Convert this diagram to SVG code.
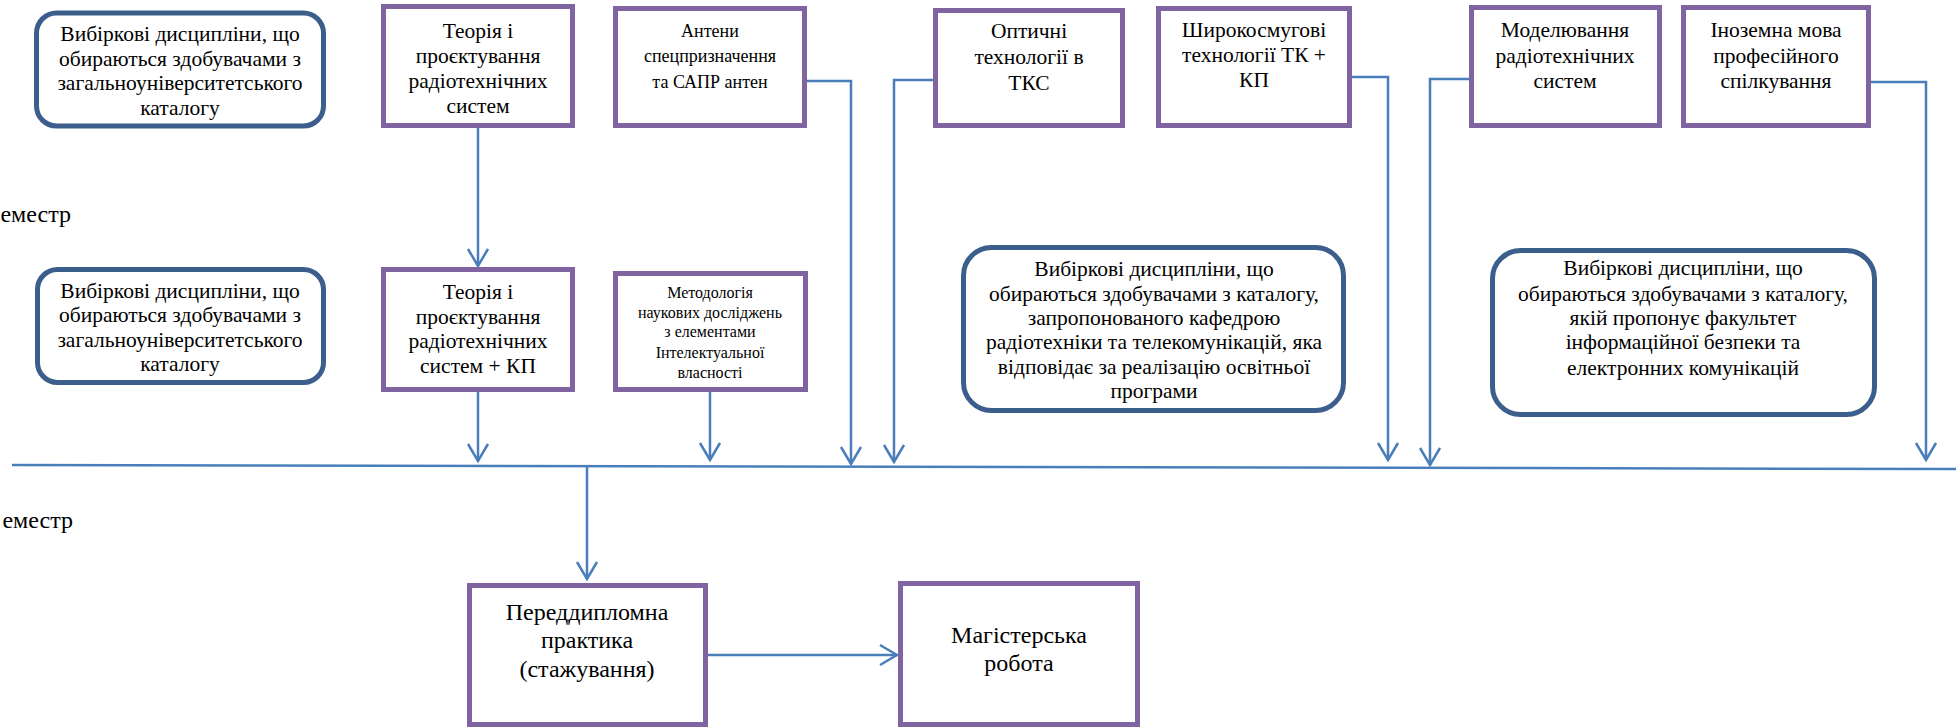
<svg xmlns="http://www.w3.org/2000/svg" width="1956" height="728" viewBox="0 0 1956 728">
<style>
.box{fill:#fff;stroke:#8064A2;stroke-width:5}
.rbox{fill:#fff;stroke:#3B5E8C;stroke-width:5}
.t{font-family:"Liberation Serif","Times New Roman",serif;font-size:21.5px;fill:#000;text-anchor:middle}
.s18{font-size:18px}
.s16{font-size:16px}
.s24{font-size:24px}
.lbl{font-family:"Liberation Serif","Times New Roman",serif;font-size:24px;fill:#000;text-anchor:end}
.c{fill:none;stroke:#4A7EBB;stroke-width:2.5}
</style>
<defs>
<marker id="ah" markerUnits="userSpaceOnUse" viewBox="0 0 20 24" refX="18" refY="12" markerWidth="20" markerHeight="24" orient="auto">
<path d="M1,2 L18,12 L1,22" fill="none" stroke="#4A7EBB" stroke-width="2.5"/>
</marker>
</defs>
<rect width="1956" height="728" fill="#fff"/>

<text class="lbl" x="71" y="222">еместр</text>
<text class="lbl" x="73" y="528">еместр</text>

<g id="connectors">
<line class="c" x1="12" y1="465" x2="1956" y2="469"/>
<path class="c" d="M478,128 L478,266" marker-end="url(#ah)"/>
<path class="c" d="M478,392 L478,461" marker-end="url(#ah)"/>
<path class="c" d="M710,392 L710,460" marker-end="url(#ah)"/>
<path class="c" d="M807,81 L851,81 L851,464" marker-end="url(#ah)"/>
<path class="c" d="M933,80 L894,80 L894,462" marker-end="url(#ah)"/>
<path class="c" d="M1352,77 L1388,77 L1388,460" marker-end="url(#ah)"/>
<path class="c" d="M1469,79 L1430,79 L1430,465" marker-end="url(#ah)"/>
<path class="c" d="M1871,82 L1926,82 L1926,460" marker-end="url(#ah)"/>
<path class="c" d="M587,466 L587,579" marker-end="url(#ah)"/>
<path class="c" d="M708,655 L897,655" marker-end="url(#ah)"/>
</g>

<g id="n-vybirkovi-1">
<rect class="rbox" x="36.5" y="13" width="287" height="113" rx="20"/>
<text class="t" x="180" y="41">Вибіркові дисципліни, що</text>
<text class="t" x="180" y="66">обираються здобувачами з</text>
<text class="t" x="180" y="90">загальноуніверситетського</text>
<text class="t" x="180" y="115">каталогу</text>
</g>

<g id="n-teoriya">
<rect class="box" x="383.5" y="6.5" width="189" height="119"/>
<text class="t" x="478" y="38">Теорія і</text>
<text class="t" x="478" y="63">проєктування</text>
<text class="t" x="478" y="88">радіотехнічних</text>
<text class="t" x="478" y="113">систем</text>
</g>

<g id="n-anteny">
<rect class="box" x="615.5" y="8.5" width="189" height="117"/>
<text class="t s18" x="710" y="37">Антени</text>
<text class="t s18" x="710" y="62">спецпризначення</text>
<text class="t s18" x="710" y="88">та САПР антен</text>
</g>

<g id="n-optychni">
<rect class="box" x="935.5" y="10.5" width="187" height="115"/>
<text class="t" x="1029" y="38">Оптичні</text>
<text class="t" x="1029" y="64">технології в</text>
<text class="t" x="1029" y="90">ТКС</text>
</g>

<g id="n-shyroko">
<rect class="box" x="1158.5" y="8.5" width="191" height="117"/>
<text class="t" x="1254" y="37">Широкосмугові</text>
<text class="t" x="1254" y="62">технології ТК +</text>
<text class="t" x="1254" y="87">КП</text>
</g>

<g id="n-modelyuvannya">
<rect class="box" x="1471.5" y="7.5" width="188" height="118"/>
<text class="t" x="1565" y="37">Моделювання</text>
<text class="t" x="1565" y="63">радіотехнічних</text>
<text class="t" x="1565" y="88">систем</text>
</g>

<g id="n-inozemna">
<rect class="box" x="1683.5" y="7.5" width="185" height="118"/>
<text class="t" x="1776" y="37">Іноземна мова</text>
<text class="t" x="1776" y="63">професійного</text>
<text class="t" x="1776" y="88">спілкування</text>
</g>

<g id="n-vybirkovi-2">
<rect class="rbox" x="37.5" y="269.5" width="286" height="113" rx="20"/>
<text class="t" x="180" y="298">Вибіркові дисципліни, що</text>
<text class="t" x="180" y="322">обираються здобувачами з</text>
<text class="t" x="180" y="347">загальноуніверситетського</text>
<text class="t" x="180" y="371">каталогу</text>
</g>

<g id="n-teoriya-kp">
<rect class="box" x="383.5" y="269.5" width="189" height="120"/>
<text class="t" x="478" y="299">Теорія і</text>
<text class="t" x="478" y="324">проєктування</text>
<text class="t" x="478" y="348">радіотехнічних</text>
<text class="t" x="478" y="373">систем + КП</text>
</g>

<g id="n-metodologiya">
<rect class="box" x="615.5" y="273.5" width="190" height="116"/>
<text class="t s16" x="710" y="298">Методологія</text>
<text class="t s16" x="710" y="318">наукових досліджень</text>
<text class="t s16" x="710" y="337">з елементами</text>
<text class="t s16" x="710" y="358">Інтелектуальної</text>
<text class="t s16" x="710" y="378">власності</text>
</g>

<g id="n-vybirkovi-kafedra">
<rect class="rbox" x="963.5" y="247.5" width="380" height="163" rx="28"/>
<text class="t" x="1154" y="276">Вибіркові дисципліни, що</text>
<text class="t" x="1154" y="301">обираються здобувачами з каталогу,</text>
<text class="t" x="1154" y="325">запропонованого кафедрою</text>
<text class="t" x="1154" y="349">радіотехніки та телекомунікацій, яка</text>
<text class="t" x="1154" y="374">відповідає за реалізацію освітньої</text>
<text class="t" x="1154" y="398">програми</text>
</g>

<g id="n-vybirkovi-fakultet">
<rect class="rbox" x="1492.5" y="250.5" width="382" height="164" rx="28"/>
<text class="t" x="1683" y="275">Вибіркові дисципліни, що</text>
<text class="t" x="1683" y="301">обираються здобувачами з каталогу,</text>
<text class="t" x="1683" y="325">якій пропонує факультет</text>
<text class="t" x="1683" y="349">інформаційної безпеки та</text>
<text class="t" x="1683" y="375">електронних комунікацій</text>
</g>

<g id="n-praktyka">
<rect class="box" x="469.5" y="585.5" width="236" height="139"/>
<text class="t s24" x="587" y="620">Переддипломна</text>
<text class="t s24" x="587" y="648">практика</text>
<text class="t s24" x="587" y="677">(стажування)</text>
</g>

<g id="n-mahisterska">
<rect class="box" x="900.5" y="583.5" width="237" height="141"/>
<text class="t s24" x="1019" y="643">Магістерська</text>
<text class="t s24" x="1019" y="671">робота</text>
</g>
</svg>
